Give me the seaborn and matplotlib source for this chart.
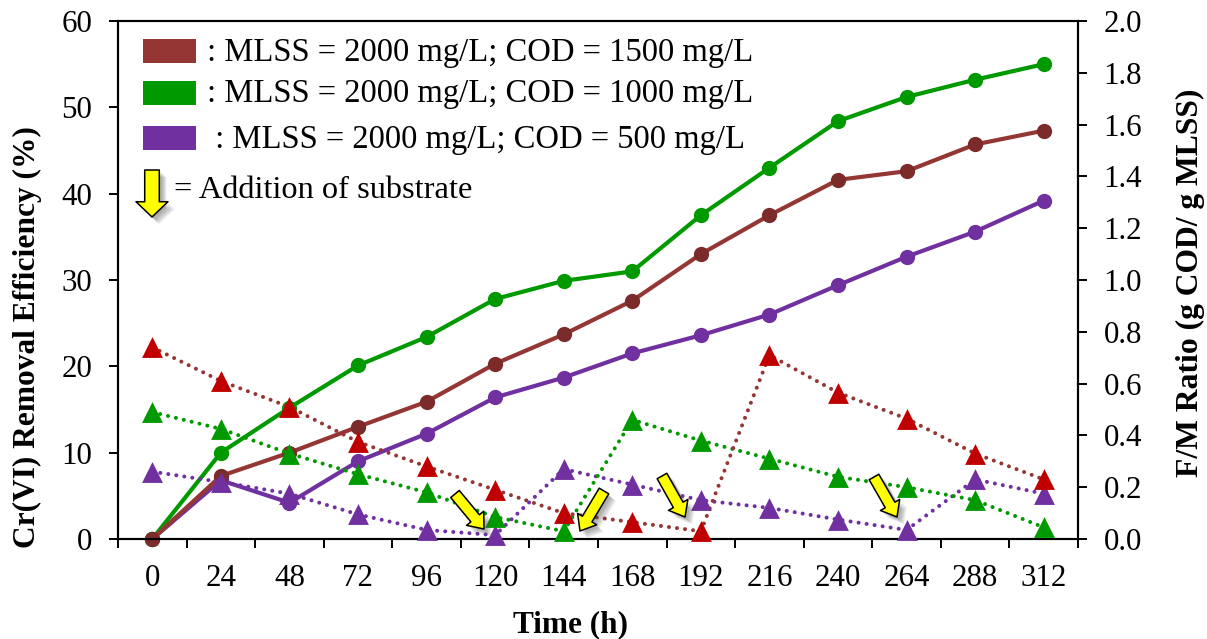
import numpy as np
import pandas as pd
import seaborn as sns
import matplotlib.pyplot as plt
import matplotlib.patheffects as pe
from matplotlib.patches import FancyArrowPatch, Rectangle
from matplotlib.ticker import FixedLocator, NullFormatter

time_h = [0, 24, 48, 72, 96, 120, 144, 168, 192, 216, 240, 264, 288, 312]

# removal efficiency (%)
removal_1500 = [0, 7.3, 10, 13, 15.9, 20.3, 23.7, 27.6, 33, 37.5, 41.6, 42.6, 45.7, 47.3]
removal_1000 = [0, 10, 15.2, 20.1, 23.4, 27.8, 29.9, 31, 37.5, 43, 48.4, 51.2, 53.2, 55]
removal_500 = [0, 6.8, 4.2, 9, 12.2, 16.4, 18.7, 21.5, 23.6, 26, 29.4, 32.7, 35.6, 39.2]

# F/M ratio
fm_1500 = [0.74, 0.61, 0.51, 0.375, 0.28, 0.19, 0.10, 0.065, 0.03, 0.71, 0.565, 0.465, 0.33, 0.23]
fm_1000 = [0.49, 0.425, 0.33, 0.25, 0.18, 0.085, 0.03, 0.46, 0.38, 0.31, 0.24, 0.20, 0.15, 0.045]
fm_500 = [0.26, 0.22, 0.175, 0.095, 0.035, 0.015, 0.27, 0.21, 0.15, 0.12, 0.075, 0.035, 0.23, 0.175]

legend_labels = [': MLSS = 2000 mg/L; COD = 1500 mg/L',
                 ': MLSS = 2000 mg/L; COD = 1000 mg/L',
                 ' : MLSS = 2000 mg/L; COD = 500 mg/L']

BROWN = '#943634'
DARK_BROWN = '#7A2B2A'
GREEN = '#009900'
PURPLE = '#7030A0'
RED = '#C00000'
W, H = 1207, 639

sns.set_theme(style='white')
plt.rcParams['font.family'] = ['Liberation Serif', 'DejaVu Serif']

fig = plt.figure(figsize=(W / 100, H / 100), dpi=100)
ax = fig.add_axes([118 / W, 1 - 539 / H, 960 / W, 518 / H])
ax2 = ax.twinx()  # stays on top, the triangles cover the solid lines


def px(x, y):
    # picture pixels (y down) to figure fraction
    return x / W, 1 - y / H


df = pd.DataFrame({'time': time_h,
                   'r1500': removal_1500, 'r1000': removal_1000, 'r500': removal_500,
                   'f1500': fm_1500, 'f1000': fm_1000, 'f500': fm_500})

for col, line_col, tri_col in [('f500', PURPLE, PURPLE), ('f1000', GREEN, GREEN), ('f1500', BROWN, RED)]:
    sns.lineplot(data=df, x='time', y=col, ax=ax2, color=line_col, lw=2.9,
                 dashes=[(0.01, 2.0)], style=True, legend=False, errorbar=None, clip_on=False)
    ax2.lines[-1].set_dash_capstyle('round')
    sns.scatterplot(data=df, x='time', y=col, ax=ax2, color=tri_col, marker='^', s=225,
                    linewidth=0, legend=False, clip_on=False, zorder=5)

for col, c, mc in [('r500', PURPLE, PURPLE), ('r1000', GREEN, GREEN), ('r1500', BROWN, DARK_BROWN)]:
    sns.lineplot(data=df, x='time', y=col, ax=ax, color=c, lw=3, marker='o', markersize=11,
                 markerfacecolor=mc, markeredgewidth=0, errorbar=None, clip_on=False)

ax.set_xlim(-12, 324)
ax.set_ylim(0, 60)
ax2.set_ylim(0, 2)
ax.set_yticks(np.arange(0, 61, 10))
ax2.set_yticks(np.arange(0, 2.01, 0.2))
ax2.set_yticklabels(['%.1f' % v for v in np.arange(0, 2.01, 0.2)])

# x ticks fall between the hours, labels sit on the hours
ax.set_xticks(np.arange(-12, 325, 24))
ax.xaxis.set_major_formatter(NullFormatter())
ax.xaxis.set_minor_locator(FixedLocator(time_h))
ax.set_xticklabels([str(t) for t in time_h], minor=True)
ax.tick_params(axis='x', which='minor', length=0, pad=18, labelsize=22.3, colors='black')
ax.tick_params(axis='x', which='major', length=6.5, width=1.4, color='black', bottom=True)
ax.tick_params(axis='y', length=6.5, width=1.4, labelsize=22.3, colors='black', pad=12, left=True)
ax2.tick_params(axis='y', length=6.5, width=1.4, labelsize=22.3, colors='black', pad=12, right=True)

for a in (ax, ax2):
    for s in a.spines.values():
        s.set_visible(True)
        s.set_color('black')
        s.set_linewidth(1.5)

ax.set_xlabel('Time (h)', fontsize=22.5, fontweight='bold', color='black')
ax.xaxis.set_label_coords(0.471, -0.1375)
ax.set_ylabel('Cr(VI) Removal Efficiency (%)', fontsize=22.6, fontweight='bold', color='black')
ax.yaxis.set_label_coords(-0.079, 0.39)
ax2.set_ylabel('F/M Ratio (g COD/ g MLSS)', fontsize=22.8, fontweight='bold', color='black')
ax2.yaxis.set_label_coords(1.102, 0.494)

# legend is hand placed inside the plot
for lab, c, top, ty in zip(legend_labels, [BROWN, GREEN, PURPLE], [39, 81, 126], [53, 94, 140]):
    x0, y0 = px(143, top + 24)
    fig.add_artist(Rectangle((x0, y0), 53 / W, 24 / H, transform=fig.transFigure, color=c, lw=0))
    tx, tyf = px(207, ty)
    fig.text(tx, tyf, lab, fontsize=23.5, va='center', ha='left', color='black')
tx, tyf = px(174, 190)
fig.text(tx, tyf, '= Addition of substrate', fontsize=23.3, va='center', ha='left', color='black')

# soft drop shadow: a few faint offset copies
shadow = [pe.SimplePatchShadow(offset=(o, -o), shadow_rgbFace='#555555', alpha=0.14) for o in (5, 4, 3, 2)]
shadow.append(pe.Normal())


def arrow(x0, y0, x1, y1, style):
    p = FancyArrowPatch(px(x0, y0), px(x1, y1), transform=fig.transFigure, arrowstyle=style,
                        mutation_scale=1, shrinkA=0, shrinkB=0, fc='#FFFF00', ec='black', lw=1.1,
                        zorder=10, path_effects=shadow)
    fig.add_artist(p)


small = 'simple,head_length=10,head_width=16,tail_width=8'
arrow(455, 494, 484, 529, small)
arrow(604, 491, 580, 531, small)
arrow(662, 476, 685, 517, small)
arrow(874, 477, 897, 517, small)
arrow(152, 170, 152, 217, 'simple,head_length=11,head_width=23,tail_width=10.5')

fig.savefig('out.png', dpi=100, facecolor='white')
